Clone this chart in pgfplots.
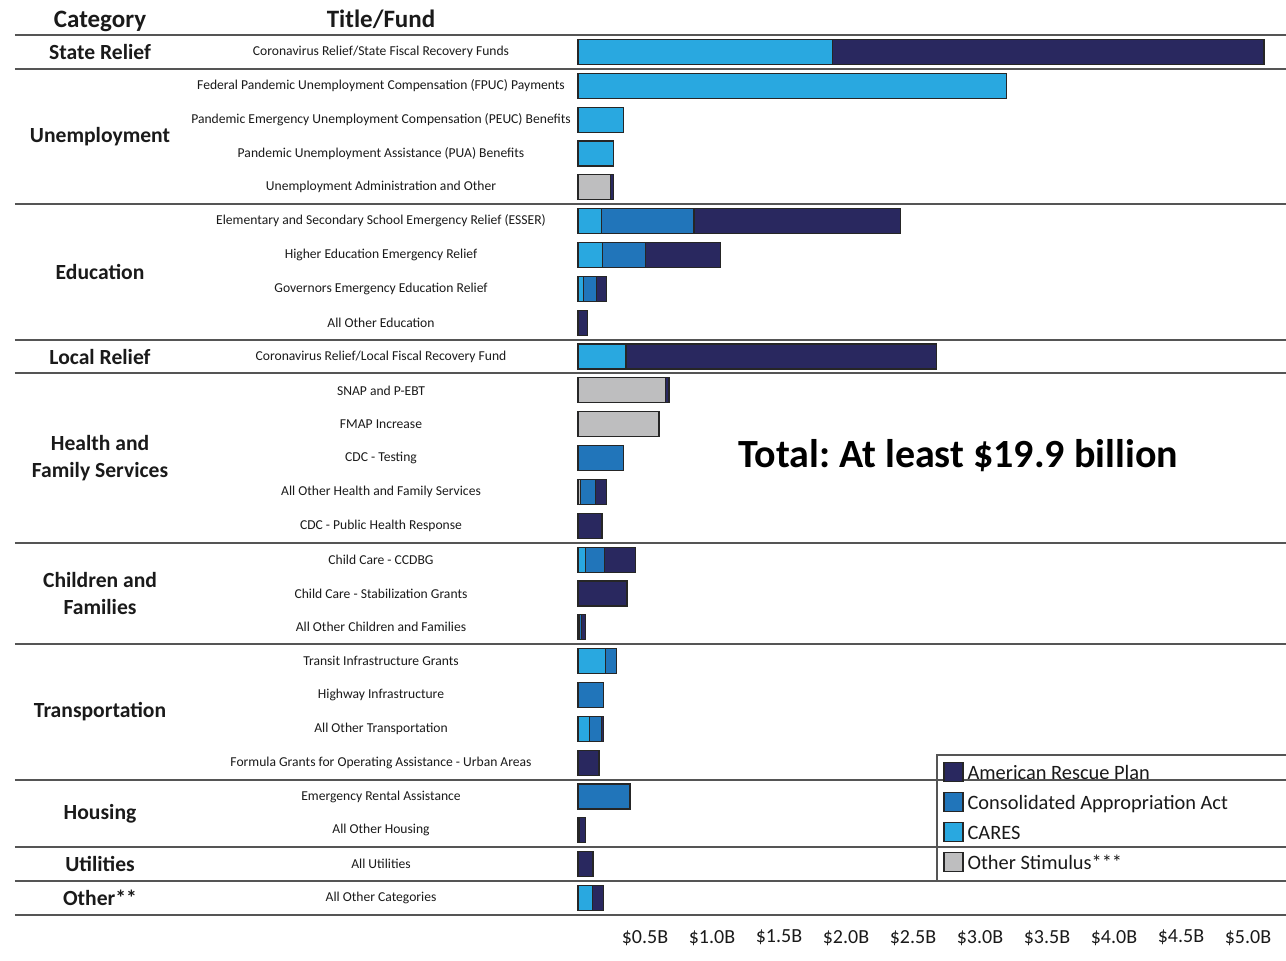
\documentclass[border=0pt]{standalone}
\usepackage{pgfplots}
\usepackage{pgfplotstable}
\pgfplotsset{compat=1.18}
\usepackage{fontspec}
\setmainfont{Carlito}
\frenchspacing
\definecolor{arp}{HTML}{29285F}
\definecolor{caa}{HTML}{2175BA}
\definecolor{cares}{HTML}{29A8E0}
\definecolor{oth}{HTML}{BEBEBF}
\definecolor{sep}{HTML}{555555}
\definecolor{txt}{HTML}{1A1A1A}

\pgfplotstableread{
row oth cares caa arp
1 0 1.90 0 3.22
2 0 3.20 0 0
3 0 0.34 0 0
4 0 0.267 0 0
5 0.24 0 0 0.025
6 0 0.175 0.69 1.54
7 0 0.184 0.318 0.563
8 0 0.04 0.10 0.07
9 0 0 0 0.07
10 0 0.358 0 2.32
11 0.654 0 0 0.025
12 0.604 0 0 0
13 0 0 0.341 0
14 0.02 0 0.11 0.08
15 0 0 0 0.179
16 0 0.055 0.142 0.234
17 0 0 0 0.366
18 0 0.014 0.013 0.03
19 0 0.207 0.081 0
20 0 0 0.19 0
21 0 0.087 0.087 0.015
22 0 0 0 0.157
23 0 0 0.388 0
24 0 0.014 0 0.043
25 0 0 0 0.112
26 0 0.109 0 0.08
}\datatable

\newcommand{\fundfont}{\fontsize{6.8}{8}\selectfont}
\newcommand{\catfont}{\fontsize{10.8}{13.5}\selectfont\bfseries}

\begin{document}
\begin{tikzpicture}
\begin{axis}[
  at={(289pt,23pt)}, anchor=south west,
  scale only axis, width=354pt, height=440pt,
  xbar stacked, bar width=12.5pt,
  xmin=0, xmax=5.2836, ymin=0.5, ymax=26.5, y dir=reverse,
  enlargelimits=false, clip=false,
  axis line style={draw=none}, major tick length=0pt,
  ytick=\empty,
  xtick={0.5,1.0,1.5,2.0,2.5,3.0,3.5,4.0,4.5,5.0},
  xticklabels={\$0.5B,\$1.0B,\$1.5B,\$2.0B,\$2.5B,\$3.0B,\$3.5B,\$4.0B,\$4.5B,\$5.0B},
  xticklabel style={font=\fontsize{10}{12}\selectfont, text=txt, yshift=-4pt},
  reverse legend,
  legend cell align=left,
  legend image code/.code={\draw[#1, draw=black!85, line width=0.6pt] (0pt,-3.8pt) rectangle (9.5pt,5.7pt);},
  legend style={at={(axis cs:2.724,21.87)}, anchor=north west, draw=none, fill=none,
    inner sep=0pt, row sep=0pt, font=\fontsize{10.2}{11}\selectfont, text=txt,
    nodes={inner ysep=0pt, inner xsep=2pt, text height=10.2pt, text depth=4.8pt}},
]
% separator lines
\draw[sep, line width=1pt] (axis cs:-4.2015,0.5) -- (axis cs:5.2836,0.5);
\draw[sep, line width=1pt] (axis cs:-4.2015,1.5) -- (axis cs:5.2836,1.5);
\draw[sep, line width=1pt] (axis cs:-4.2015,5.5) -- (axis cs:5.2836,5.5);
\draw[sep, line width=1pt] (axis cs:-4.2015,9.5) -- (axis cs:5.2836,9.5);
\draw[sep, line width=1pt] (axis cs:-4.2015,10.5) -- (axis cs:5.2836,10.5);
\draw[sep, line width=1pt] (axis cs:-4.2015,15.5) -- (axis cs:5.2836,15.5);
\draw[sep, line width=1pt] (axis cs:-4.2015,18.5) -- (axis cs:5.2836,18.5);
\draw[sep, line width=1pt] (axis cs:-4.2015,22.5) -- (axis cs:5.2836,22.5);
\draw[sep, line width=1pt] (axis cs:-4.2015,24.5) -- (axis cs:5.2836,24.5);
\draw[sep, line width=1pt] (axis cs:-4.2015,25.5) -- (axis cs:5.2836,25.5);
\draw[sep, line width=1pt] (axis cs:-4.2015,26.5) -- (axis cs:5.2836,26.5);
% legend frame
\draw[sep, line width=0.9pt, fill=white] (axis cs:2.679,25.5) -- (axis cs:2.679,21.77) -- (axis cs:5.40,21.77) -- (axis cs:5.40,25.5) -- cycle;

\addplot[fill=oth, draw=black!85, line width=0.6pt] table[x=oth, y=row] {\datatable};
\addplot[fill=cares, draw=black!85, line width=0.6pt] table[x=cares, y=row] {\datatable};
\addplot[fill=caa, draw=black!85, line width=0.6pt] table[x=caa, y=row] {\datatable};
\addplot[fill=arp, draw=black!85, line width=0.6pt] table[x=arp, y=row] {\datatable};
\legend{Other Stimulus***, CARES, Consolidated Appropriation Act, American Rescue Plan}

% headers
\node[font=\fontsize{12.5}{14}\selectfont\bfseries, text=txt, anchor=base] at (axis cs:-3.567,0.29) {Category};
\node[font=\fontsize{12.5}{14}\selectfont\bfseries, text=txt, anchor=base] at (axis cs:-1.470,0.29) {Title/Fund};

% categories
\node[font=\catfont, text=txt, align=center] at (axis cs:-3.567,1) {State Relief};
\node[font=\catfont, text=txt, align=center] at (axis cs:-3.567,3.5) {Unemployment};
\node[font=\catfont, text=txt, align=center] at (axis cs:-3.567,7.5) {Education};
\node[font=\catfont, text=txt, align=center] at (axis cs:-3.567,10) {Local Relief};
\node[font=\catfont, text=txt, align=center] at (axis cs:-3.567,13) {Health and\\Family Services};
\node[font=\catfont, text=txt, align=center] at (axis cs:-3.567,17) {Children and\\Families};
\node[font=\catfont, text=txt, align=center] at (axis cs:-3.567,20.5) {Transportation};
\node[font=\catfont, text=txt, align=center] at (axis cs:-3.567,23.5) {Housing};
\node[font=\catfont, text=txt, align=center] at (axis cs:-3.567,25) {Utilities};
\node[font=\catfont, text=txt, align=center] at (axis cs:-3.567,26) {Other**};

% funds
\node[font=\fundfont, text=txt] at (axis cs:-1.470,1) {Coronavirus Relief/State Fiscal Recovery Funds};
\node[font=\fundfont, text=txt] at (axis cs:-1.470,2) {Federal Pandemic Unemployment Compensation (FPUC) Payments};
\node[font=\fundfont, text=txt] at (axis cs:-1.470,3) {Pandemic Emergency Unemployment Compensation (PEUC) Benefits};
\node[font=\fundfont, text=txt] at (axis cs:-1.470,4) {Pandemic Unemployment Assistance (PUA) Benefits};
\node[font=\fundfont, text=txt] at (axis cs:-1.470,5) {Unemployment Administration and Other};
\node[font=\fundfont, text=txt] at (axis cs:-1.470,6) {Elementary and Secondary School Emergency Relief (ESSER)};
\node[font=\fundfont, text=txt] at (axis cs:-1.470,7) {Higher Education Emergency Relief};
\node[font=\fundfont, text=txt] at (axis cs:-1.470,8) {Governors Emergency Education Relief};
\node[font=\fundfont, text=txt] at (axis cs:-1.470,9) {All Other Education};
\node[font=\fundfont, text=txt] at (axis cs:-1.470,10) {Coronavirus Relief/Local Fiscal Recovery Fund};
\node[font=\fundfont, text=txt] at (axis cs:-1.470,11) {SNAP and P-EBT};
\node[font=\fundfont, text=txt] at (axis cs:-1.470,12) {FMAP Increase};
\node[font=\fundfont, text=txt] at (axis cs:-1.470,13) {CDC - Testing};
\node[font=\fundfont, text=txt] at (axis cs:-1.470,14) {All Other Health and Family Services};
\node[font=\fundfont, text=txt] at (axis cs:-1.470,15) {CDC - Public Health Response};
\node[font=\fundfont, text=txt] at (axis cs:-1.470,16) {Child Care - CCDBG};
\node[font=\fundfont, text=txt] at (axis cs:-1.470,17) {Child Care - Stabilization Grants};
\node[font=\fundfont, text=txt] at (axis cs:-1.470,18) {All Other Children and Families};
\node[font=\fundfont, text=txt] at (axis cs:-1.470,19) {Transit Infrastructure Grants};
\node[font=\fundfont, text=txt] at (axis cs:-1.470,20) {Highway Infrastructure};
\node[font=\fundfont, text=txt] at (axis cs:-1.470,21) {All Other Transportation};
\node[font=\fundfont, text=txt] at (axis cs:-1.470,22) {Formula Grants for Operating Assistance - Urban Areas};
\node[font=\fundfont, text=txt] at (axis cs:-1.470,23) {Emergency Rental Assistance};
\node[font=\fundfont, text=txt] at (axis cs:-1.470,24) {All Other Housing};
\node[font=\fundfont, text=txt] at (axis cs:-1.470,25) {All Utilities};
\node[font=\fundfont, text=txt] at (axis cs:-1.470,26) {All Other Categories};

% total
\node[font=\fontsize{20}{24}\selectfont\bfseries, text=black] at (axis cs:2.836,12.94) {Total: At least \$19.9 billion};
\end{axis}
\pgfresetboundingbox
\path (0,0) rectangle (643pt,480.5pt);
\end{tikzpicture}
\end{document}
